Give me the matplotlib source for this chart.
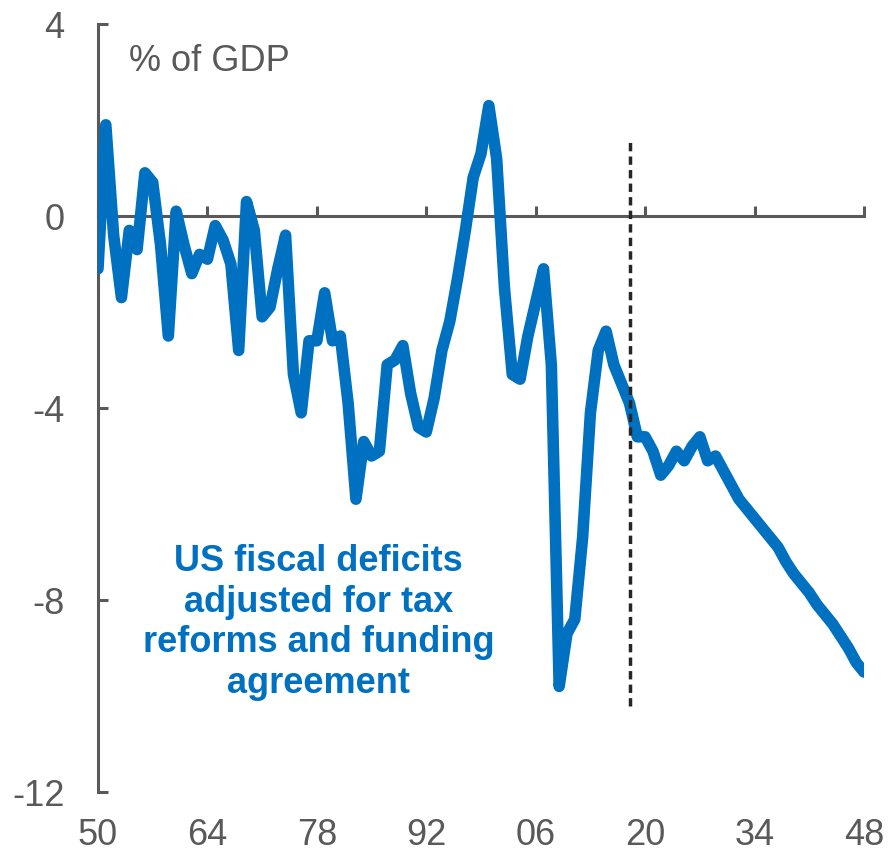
import numpy as np
import matplotlib
matplotlib.use('Agg')
import matplotlib.pyplot as plt

# US fiscal balance, % of GDP (history + projection)
years = list(range(1950, 2049))
deficit = [
    -1.1, 1.9, -0.4, -1.7, -0.3, -0.7, 0.9, 0.7, -0.6, -2.5,      # 1950s
    0.1, -0.6, -1.2, -0.8, -0.9, -0.2, -0.5, -1.0, -2.8, 0.3,     # 1960s
    -0.3, -2.1, -1.9, -1.1, -0.4, -3.3, -4.1, -2.6, -2.6, -1.6,   # 1970s
    -2.6, -2.5, -3.9, -5.9, -4.7, -5.0, -4.9, -3.1, -3.0, -2.7,   # 1980s
    -3.7, -4.4, -4.5, -3.8, -2.8, -2.2, -1.3, -0.3, 0.8, 1.3,     # 1990s
    2.3, 1.2, -1.5, -3.3, -3.4, -2.5, -1.8, -1.1, -3.1, -9.8,     # 2000s
    -8.7, -8.4, -6.7, -4.1, -2.8, -2.4, -3.1, -3.5, -3.9, -4.6,   # 2010s
    -4.6, -4.9, -5.4, -5.2, -4.9, -5.1, -4.8, -4.6, -5.1, -5.0,   # 2020s
    -5.3, -5.6, -5.9, -6.1, -6.3, -6.5, -6.7, -6.9, -7.2, -7.45,  # 2030s
    -7.65, -7.85, -8.1, -8.3, -8.5, -8.75, -9.0, -9.3, -9.5,      # 2040s
]

xticks = [1950, 1964, 1978, 1992, 2006, 2020, 2034, 2048]
xticklabels = ['50', '64', '78', '92', '06', '20', '34', '48']
yticks = [4, 0, -4, -8, -12]

forecast_year = 2018
forecast_span = (-10.2, 1.6)

blue = '#0070C0'
grey = '#595959'

plt.rcParams['font.family'] = ['Liberation Sans', 'DejaVu Sans']
plt.rc('xtick', direction='in')
plt.rc('ytick', direction='in')

fig = plt.figure(figsize=(8.89, 8.54), dpi=100)
ax = fig.add_axes([98/889, 1-793/854, (864-98)/889, (793-25)/854])

ax.plot(years, deficit, color=blue, lw=8.3, solid_joinstyle='round',
        solid_capstyle='round', zorder=3)
ax.vlines(forecast_year, forecast_span[0], forecast_span[1], colors='#262626',
          linestyles=(0, (2.4, 1.5)), lw=2.5, zorder=4)

ax.set_xlim(1950, 2048)
ax.set_ylim(-12, 4)

for s in ['top', 'right']:
    ax.spines[s].set_visible(False)
ax.spines['bottom'].set_position(('data', 0))
for s in ['bottom', 'left']:
    ax.spines[s].set_color(grey)
    ax.spines[s].set_linewidth(2.2)

ax.set_yticks(yticks)
ax.set_yticklabels([str(v) for v in yticks])
ax.tick_params(axis='y', length=7, width=2.2, color=grey, labelcolor=grey,
               labelsize=26, pad=24)
ax.set_xticks(xticks)
ax.tick_params(axis='x', length=7, width=2.2, color=grey, labelbottom=False)

# labels at the bottom of the panel, axis line sits at zero
sec = ax.secondary_xaxis('bottom')
sec.set_xticks(xticks)
sec.set_xticklabels(xticklabels)
sec.spines['bottom'].set_visible(False)
sec.tick_params(axis='x', length=0, labelcolor=grey, labelsize=26, pad=18)

ax.text(0.04, 0.975, '% of GDP', transform=ax.transAxes, fontsize=26,
        color=grey, ha='left', va='top')

ax.text(1978.2, -8.45, 'US fiscal deficits\nadjusted for tax\nreforms and funding\nagreement',
        fontsize=26, fontweight='bold', color=blue, ha='center', va='center',
        linespacing=1.2)

plt.savefig('out.png', dpi=100)
